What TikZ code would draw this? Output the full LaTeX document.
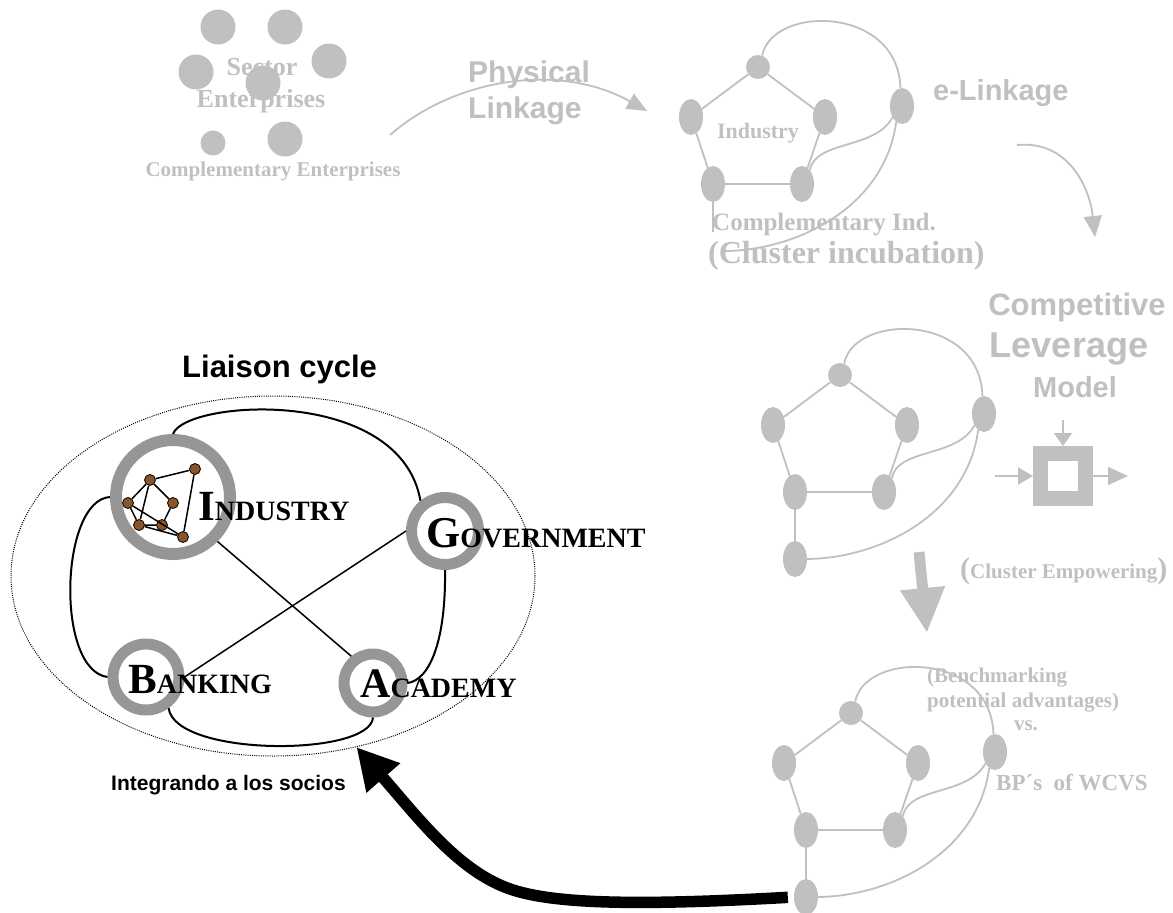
\documentclass[tikz,border=0pt]{standalone}
\usepackage{fontspec}
\setmainfont{Liberation Serif}
\setsansfont{Liberation Sans}
\usetikzlibrary{shapes.geometric,arrows.meta}
\definecolor{lgrey}{RGB}{192,192,192}
\definecolor{ringgrey}{RGB}{150,150,150}
\definecolor{nutbrown}{RGB}{139,84,38}
\newcommand\fsz[1]{\fontsize{#1}{#1}\selectfont}
\tikzset{
  gdot/.style={circle, fill=lgrey, minimum size=24pt, inner sep=0pt},
  gell/.style={ellipse, fill=lgrey, minimum width=24pt, minimum height=36pt, inner sep=0pt},
  sdot/.style={circle, fill=lgrey, minimum size=#1, inner sep=0pt},
  gline/.style={draw=lgrey, line width=1.8pt},
  garrow/.style n args={2}{draw=lgrey, line width=1.8pt, -{Triangle[length=#1,width=#2]}},
  serift/.style={anchor=base west, inner sep=0pt, text=lgrey, font=\bfseries\fsz{#1}},
  sanst/.style={anchor=base west, inner sep=0pt, text=lgrey, font=\sffamily\bfseries\fsz{#1}},
  ring/.style={circle, draw=ringgrey, line width=11pt, inner sep=0pt},
  link/.style={draw=black, line width=2pt},
  straight/.style={draw=black, line width=1.5pt},
  bdot/.style={circle, fill=nutbrown, draw=black, line width=0.8pt, minimum size=11pt, inner sep=0pt},
  partner/.style={anchor=base west, inner sep=0pt, font=\bfseries},
  cluster/.pic={
    \node[gdot] (-t) at (758,67) {};
    \node[gell] (-l) at (691,117) {};
    \node[gell] (-r) at (825,117) {};
    \node[gell] (-bl) at (713,184) {};
    \node[gell] (-br) at (802,184) {};
    \node[gell] (-f) at (902,106) {};
    \node[gell] (-b) at (713,251) {};
    \draw[gline] (-t) -- (-l) -- (-bl) -- (-br) -- (-r) -- (-t);
    \draw[gline] (-bl) -- (-b);
    \draw[gline] (-t.70) .. controls (772,5) and (898,5) .. (-f.95);
    \draw[gline] (-f.230) .. controls (875,150) and (815,140) .. (-br.60);
  }
}
\begin{document}
\begin{tikzpicture}[x=1pt,y=-1pt]
\useasboundingbox (0,0) rectangle (1173,913);

% sector enterprises
\node[serift=26, anchor=base] (sector) at (262,75) {Sector};
\node[serift=26, anchor=base] (enterp) at (261,107) {Enterprises};
\node[serift=21, anchor=base] (complent) at (273,176) {Complementary Enterprises};
\node[sdot=35pt] (se1) at (218,27) {};
\node[sdot=35pt] (se2) at (285,27) {};
\node[sdot=35pt] (se3) at (329,61) {};
\node[sdot=35pt] (se4) at (196,72) {};
\node[sdot=35pt] (se5) at (263,83) {};
\node[sdot=25pt] (se6) at (213,143) {};
\node[sdot=35pt] (se7) at (285,139) {};

% physical linkage
\node[sanst=30] (phys) at (468,82) {Physical};
\node[sanst=30] (plink) at (468,118) {Linkage};
\coordinate (plA) at (390,135);
\coordinate (plB) at (647,111);
\draw[garrow={20pt}{17pt}] (plA) .. controls (455,78) and (560,62) .. (plB);

% three stages of the cluster
\pic (p1) at (0,0) {cluster};
\pic (p2) at (82,308) {cluster};
\pic (p3) at (93,646) {cluster};

\node[serift=22, anchor=base] (indlbl) at (758,138) {Industry};
\node[sanst=29] (elink) at (933,100) {e-Linkage};
\node[serift=32, inner xsep=10pt, inner ysep=9pt, fill=white] (incub) at (698,263) {(Cluster incubation)};
\node[serift=25] (compind) at (712,230) {Complementary Ind.};

% model
\node[sanst=31, anchor=base] (compet) at (1077,315) {Competitive};
\node[sanst=36, anchor=base] (lever) at (1069,357) {Leverage};
\node[sanst=29, anchor=base] (model) at (1075,397) {Model};
\node[draw=lgrey, line width=15pt, fill=white, minimum size=45pt, inner sep=0pt] (clm) at (1063,476) {};
\coordinate (clmin) at (995,476);
\coordinate (clmtop) at (1063,420);
\coordinate (clmout) at (1128,476);
\draw[garrow={15pt}{17pt}] (clmin) -- (clm.west);
\draw[garrow={13pt}{18pt}] (clmtop) -- (clm.north);
\draw[garrow={20pt}{18pt}] (clm.east) -- (clmout);

\node[serift=21] (empow) at (960,578) {\fsz{30}(\fsz{21}Cluster Empowering\fsz{30})};
\coordinate (empA) at (919,552);
\coordinate (empB) at (927,633);
\draw[draw=lgrey, line width=11pt, -{Triangle[length=45pt,width=42pt]}] (empA) -- (empB);

\node[serift=21] (bench1) at (927,682) {(Benchmarking};
\node[serift=21] (bench2) at (927,707) {potential advantages)};
\node[serift=21, anchor=base] (vs) at (1026,730) {vs.};
\node[serift=23] (bps) at (996,790) {BP´s~ of WCVS};

% long links of each stage
\draw[gline] (p1-f.250) .. controls +(-11,83) and +(75,-1) .. (p1-b.east);
\draw[gline] (p2-f.250) .. controls +(-11,83) and +(75,-1) .. (p2-b.east);
\draw[gline] (p3-f.250) .. controls +(-11,83) and +(75,-1) .. (p3-b.east);

\coordinate (elA) at (1017,145);
\coordinate (elB) at (1095,237);
\draw[garrow={21pt}{18pt}] (elA) .. controls (1070,140) and (1090,190) .. (elB);

% liaison cycle
\node[anchor=base west, inner sep=0pt, font=\sffamily\bfseries\fsz{31}] (title) at (182,377) {Liaison cycle};
\node[ellipse, draw=black, line width=1pt, dash pattern=on 1pt off 1.2pt, minimum width=524pt, minimum height=360pt, inner sep=0pt] (liaison) at (273,576) {};

\node[ring, line width=12pt, minimum size=114pt] (ind) at (173,497) {};
\node[ring, minimum size=67pt] (gov) at (445,531) {};
\node[ring, minimum size=58pt] (aca) at (373,683) {};
\node[ring, minimum size=66pt] (bank) at (146,677) {};

\draw[link] (ind.90) .. controls (185,400) and (400,385) .. (gov.129);
\draw[link] (ind.180) .. controls (60,500) and (55,670) .. (bank.180);
\draw[link] (gov.-90) .. controls (446,640) and (430,680) .. (aca.0);
\draw[link] (bank.-54) .. controls (175,757) and (370,757) .. (aca.-90);
\draw[straight] (ind.-45) -- (aca.129);
\draw[straight] (bank.0) -- (gov.180);

% firms inside the industry ring
\node[bdot] (ia) at (150,480) {};
\node[bdot] (ib) at (195,469) {};
\node[bdot] (ic) at (128,503) {};
\node[bdot] (id) at (173,503) {};
\node[bdot] (ie) at (139,525) {};
\node[bdot] (if) at (162,525) {};
\node[bdot] (ig) at (183,537) {};
\draw[straight] (ia) -- (ib) (ia) -- (ic) (ia) -- (id) (ia) -- (ie) (ib) -- (ig)
  (ic) -- (ie) (ic) -- (ig) (id) -- (if) (ie) -- (if) (ie) -- (ig);

\node[partner] (lind) at (198,520) {\fsz{43}I\fsz{28}NDUSTRY};
\node[partner] (lgov) at (426,547) {\fsz{44}G\fsz{28}OVERNMENT};
\node[partner] (laca) at (360,697) {\fsz{42}A\fsz{28}CADEMY};
\node[partner] (lbank) at (128,693) {\fsz{43}B\fsz{28}ANKING};

\node[anchor=base west, inner sep=0pt, font=\sffamily\bfseries\fsz{21}] (integ) at (111,790) {Integrando a los socios};

\draw[draw=black, line width=11.5pt, shorten <=6pt, -{Triangle[length=41pt,width=42pt]}]
  (p3-b.west) .. controls (650,905) and (560,905) .. (513,890)
  .. controls (460,873) and (420,820) .. (liaison.-64);
\end{tikzpicture}
\end{document}
